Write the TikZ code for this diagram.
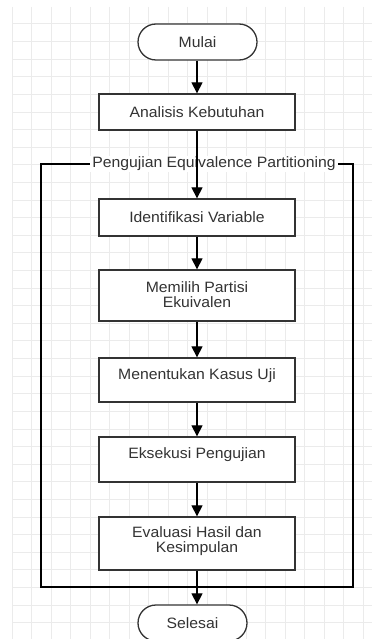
\documentclass[tikz,border=0pt]{standalone}
\usepackage{fontspec}
\setmainfont[FakeStretch=1.05]{Liberation Sans}
\usetikzlibrary{arrows.meta}
\definecolor{gridc}{HTML}{EBEBEB}
\definecolor{inkc}{HTML}{333333}
\tikzset{
  gridline/.style={draw=gridc, line width=1pt},
  procbox/.style={draw=inkc, fill=white, line width=1.3pt, minimum width=196pt, align=center, text=inkc, inner sep=0pt, font=\fontsize{15}{14.4}\selectfont},
  termbox/.style={procbox, rounded corners=18pt, minimum height=36pt},
  txt/.style={text=inkc, align=center, inner sep=0pt, font=\fontsize{15}{14.4}\selectfont},
  flow/.style={draw=black, line width=1.2pt, -{Triangle[width=11pt,length=11pt]}},
  framel/.style={draw=black, line width=1.1pt},
}
\begin{document}
\begin{tikzpicture}[x=1pt,y=-1pt]
\useasboundingbox (0,0) rectangle (372,639);
\fill[white] (0,0) rectangle (372,639);
% grid
\foreach \k in {0,...,18} {\draw[gridline] ({12+19.52*\k},7) -- ({12+19.52*\k},639);}
\foreach \k in {0,...,34} {\draw[gridline] (12,{24+17.61*\k}) -- (372,{24+17.61*\k});}
% frame
\coordinate (ftl) at (41,164);
\coordinate (fbr) at (353,587);
\draw[framel] (ftl) rectangle (fbr);
\node[txt, fill=white, inner xsep=2pt, inner ysep=1pt] (flabel) at (214,164) {Pengujian Equivalence Partitioning};
% nodes
\node[termbox, minimum width=119pt] (mulai) at (197.5,42) {Mulai};
\node[procbox, minimum height=36pt] (ana) at (197,112) {Analisis Kebutuhan};
\node[procbox, minimum height=37pt] (idv) at (197,217.5) {Identifikasi Variable};
\node[procbox, minimum height=51pt] (mem) at (197,295.5) {};
\node[txt] (memt) at (197,294.5) {Memilih Partisi\\Ekuivalen};
\node[procbox, minimum height=44pt] (men) at (197,380) {};
\node[txt] (ment) at (197,376) {Menentukan Kasus Uji};
\node[procbox, minimum height=45pt] (eks) at (197,459.5) {};
\node[txt] (ekst) at (197,455) {Eksekusi Pengujian};
\node[procbox, minimum height=53pt] (eva) at (197,543.5) {};
\node[txt] (evat) at (197,541) {Evaluasi Hasil dan\\Kesimpulan};
\node[termbox, minimum width=109pt] (sel) at (192.5,623) {Selesai};
% connectors
\draw[flow] (mulai.south -| ana.north) -- (ana.north);
\draw[flow] (ana.south) -- (idv.north);
\draw[flow] (idv.south) -- (mem.north);
\draw[flow] (mem.south) -- (men.north);
\draw[flow] (men.south) -- (eks.north);
\draw[flow] (eks.south) -- (eva.north);
\draw[flow] (eva.south) -- (eva.south |- sel.north);
\end{tikzpicture}
\end{document}
